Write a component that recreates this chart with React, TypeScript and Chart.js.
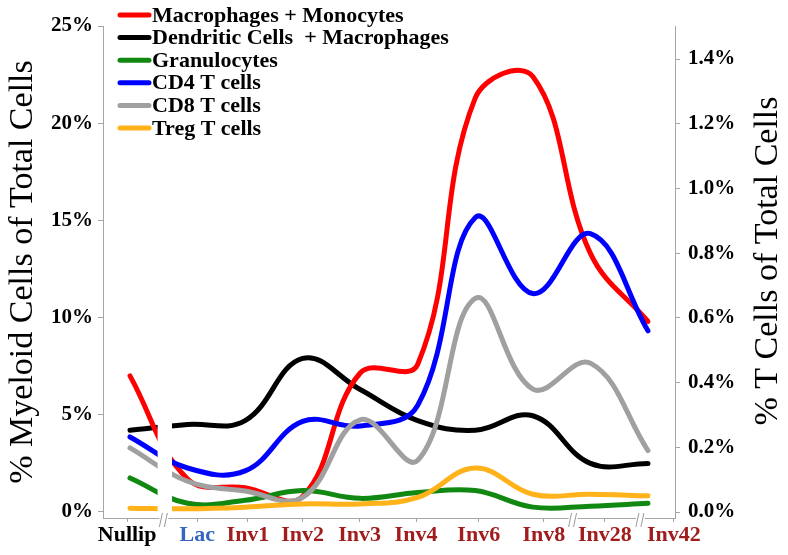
import React, { useEffect, useRef } from "react";
import { Chart, registerables } from "chart.js";
Chart.register(...registerables);

const FONT = "'Liberation Serif', 'Times New Roman', serif";

const categories = ["Nullip", "Lac", "Inv1", "Inv2", "Inv3", "Inv4", "Inv6", "Inv8", "Inv28", "Inv42"];
const categoryLabelColors = ["#000000", "#3566c0", "#a11d1d", "#a11d1d", "#a11d1d", "#a11d1d", "#a11d1d", "#a11d1d", "#a11d1d", "#a11d1d"];
// where the (hand-placed, broken-axis) category labels sit, in category units
const categoryLabelSlots = [-0.05, 1.17, 2.05, 3.0, 3.99, 4.97, 6.06, 7.19, 8.25, 9.45];

// Myeloid cells, % of total cells (left axis)
const macrophagesMonocytes = [7.0, 1.7, 1.25, 0.8, 7.15, 7.6, 21.3, 22.4, 13.3, 9.8];
const dendriticMacrophages = [4.2, 4.5, 4.7, 7.9, 6.3, 4.7, 4.2, 4.95, 2.5, 2.5];
const granulocytes = [1.75, 0.45, 0.6, 1.1, 0.7, 1.0, 1.1, 0.25, 0.3, 0.45];

// T cells, % of total cells (right axis)
const cd4TCells = [0.232, 0.136, 0.127, 0.28, 0.266, 0.33, 0.91, 0.675, 0.86, 0.56];
const cd8TCells = [0.198, 0.095, 0.065, 0.045, 0.285, 0.16, 0.66, 0.38, 0.46, 0.19];
const tregTCells = [0.012, 0.01, 0.015, 0.025, 0.025, 0.045, 0.136, 0.055, 0.055, 0.05];

const leftTicks = [0, 5, 10, 15, 20, 25];
const rightTicks = [0, 0.2, 0.4, 0.6, 0.8, 1.0, 1.2, 1.4];

// axis break decorations (in category units)
const lineGap = [0.48, 0.73];
const axisBreaks = [0.58, 7.69, 8.86];

const toPoints = (arr: number[]) => arr.map((y, i) => ({ x: i, y }));

const overlayPlugin = {
  id: "overlay",
  afterDatasetsDraw(chart: any) {
    const { ctx, chartArea } = chart;
    const xs = chart.scales.x;
    const x0 = xs.getPixelForValue(lineGap[0]);
    const x1 = xs.getPixelForValue(lineGap[1]);
    ctx.save();
    ctx.fillStyle = "#ffffff";
    ctx.fillRect(x0, chartArea.top, x1 - x0, chartArea.bottom - chartArea.top - 1);
    ctx.restore();
  },
  afterDraw(chart: any) {
    const { ctx, chartArea } = chart;
    const xs = chart.scales.x;
    ctx.save();
    const yb = chartArea.bottom;
    for (const b of axisBreaks) {
      const px = xs.getPixelForValue(b);
      ctx.fillStyle = "#ffffff";
      ctx.fillRect(px - 4, yb - 2, 9, 5);
      ctx.strokeStyle = "#9a9a9a";
      ctx.lineWidth = 1;
      ctx.beginPath();
      ctx.moveTo(px - 4, yb + 9);
      ctx.lineTo(px - 1, yb - 5);
      ctx.moveTo(px + 1, yb + 9);
      ctx.lineTo(px + 4, yb - 5);
      ctx.stroke();
    }
    // right axis title (reads bottom to top)
    ctx.fillStyle = "#000000";
    ctx.font = `34px ${FONT}`;
    ctx.textAlign = "center";
    ctx.textBaseline = "middle";
    ctx.translate(chart.width - 19.5, (chartArea.top + chartArea.bottom) / 2 - 11);
    ctx.rotate(-Math.PI / 2);
    ctx.fillText("% T Cells of Total Cells", 0, 0);
    ctx.restore();

    // legend
    ctx.save();
    const lx = chartArea.left + 15;
    chart.data.datasets.forEach((ds: any, i: number) => {
      const y = 15 + i * 22.6;
      ctx.strokeStyle = ds.borderColor;
      ctx.lineWidth = 5;
      ctx.lineCap = "round";
      ctx.beginPath();
      ctx.moveTo(lx + 2, y);
      ctx.lineTo(lx + 31, y);
      ctx.stroke();
      ctx.fillStyle = "#000000";
      ctx.font = `bold 22px ${FONT}`;
      ctx.textAlign = "left";
      ctx.textBaseline = "middle";
      ctx.fillText(ds.label, lx + 34, y + 1);
    });
    ctx.restore();
  },
};

export default function App() {
  const ref = useRef<HTMLCanvasElement | null>(null);
  useEffect(() => {
    if (!ref.current) return;
    const common = {
      borderWidth: 5,
      pointRadius: 0,
      pointHoverRadius: 0,
      tension: 0.4,
      fill: false,
      borderCapStyle: "round",
      borderJoinStyle: "round",
    };
    const chart = new Chart(ref.current, {
      type: "line",
      data: {
        datasets: [
          { ...common, label: "Macrophages + Monocytes", data: toPoints(macrophagesMonocytes), borderColor: "#ff0000", backgroundColor: "#ff0000", yAxisID: "yL", order: 5 },
          { ...common, label: "Dendritic Cells  + Macrophages", data: toPoints(dendriticMacrophages), borderColor: "#000000", backgroundColor: "#000000", yAxisID: "yL", order: 6 },
          { ...common, label: "Granulocytes", data: toPoints(granulocytes), borderColor: "#118811", backgroundColor: "#118811", yAxisID: "yL", order: 4 },
          { ...common, label: "CD4 T cells", data: toPoints(cd4TCells), borderColor: "#0000ff", backgroundColor: "#0000ff", yAxisID: "yR", order: 3 },
          { ...common, label: "CD8 T cells", data: toPoints(cd8TCells), borderColor: "#a0a0a0", backgroundColor: "#a0a0a0", yAxisID: "yR", order: 2 },
          { ...common, label: "Treg T cells", data: toPoints(tregTCells), borderColor: "#ffb219", backgroundColor: "#ffb219", yAxisID: "yR", order: 1 },
        ] as any,
      },
      options: {
        responsive: false,
        animation: false,
        devicePixelRatio: 1,
        layout: { padding: { top: 26, left: 0, right: 0, bottom: 0 } },
        plugins: { legend: { display: false }, tooltip: { enabled: false } },
        scales: {
          x: {
            type: "linear",
            min: -0.469,
            max: 9.47,
            afterBuildTicks: (s: any) => {
              s.ticks = categoryLabelSlots.map((v) => ({ value: v }));
            },
            afterFit: (s: any) => {
              s.height = 37;
            },
            grid: { drawOnChartArea: false, drawTicks: true, tickLength: 4, color: "#a6a6a6" },
            border: { color: "#a6a6a6", width: 1 },
            ticks: {
              autoSkip: false,
              maxRotation: 0,
              padding: 0,
              callback: (_v: any, i: number) => categories[i] ?? "",
              color: (c: any) => categoryLabelColors[c.index] ?? "#000",
              font: { family: FONT, size: 22, weight: "bold" },
            },
          },
          yL: {
            type: "linear",
            position: "left",
            min: -0.31,
            max: 25,
            afterBuildTicks: (s: any) => {
              s.ticks = leftTicks.map((v) => ({ value: v }));
            },
            afterFit: (s: any) => {
              s.width = 103;
            },
            grid: { drawOnChartArea: false, tickLength: 5, color: "#a6a6a6" },
            border: { color: "#a6a6a6", width: 1 },
            ticks: {
              padding: 5,
              color: "#000",
              callback: (v: any) => `${v}%`,
              font: { family: FONT, size: 21, weight: "bold" },
            },
            title: {
              display: true,
              text: "% Myeloid Cells of Total Cells",
              color: "#000",
              font: { family: FONT, size: 34 },
              padding: { top: 3, bottom: 0 },
            },
          },
          yR: {
            type: "linear",
            position: "right",
            min: -0.0185,
            max: 1.502,
            afterBuildTicks: (s: any) => {
              s.ticks = rightTicks.map((v) => ({ value: v }));
            },
            afterFit: (s: any) => {
              s.width = 113;
            },
            grid: { drawOnChartArea: false, tickLength: 5, color: "#a6a6a6" },
            border: { color: "#a6a6a6", width: 1 },
            ticks: {
              padding: 8,
              color: "#000",
              callback: (v: any) => `${Number(v).toFixed(1)}%`,
              font: { family: FONT, size: 21, weight: "bold" },
            },
          },
        },
      } as any,
      plugins: [overlayPlugin],
    });
    return () => chart.destroy();
  }, []);

  return (
    <div style={{ position: "absolute", left: 0, top: 0, width: 788, height: 555, background: "#fff" }}>
      <canvas ref={ref} width={788} height={555} style={{ width: 788, height: 555, display: "block" }} />
    </div>
  );
}
